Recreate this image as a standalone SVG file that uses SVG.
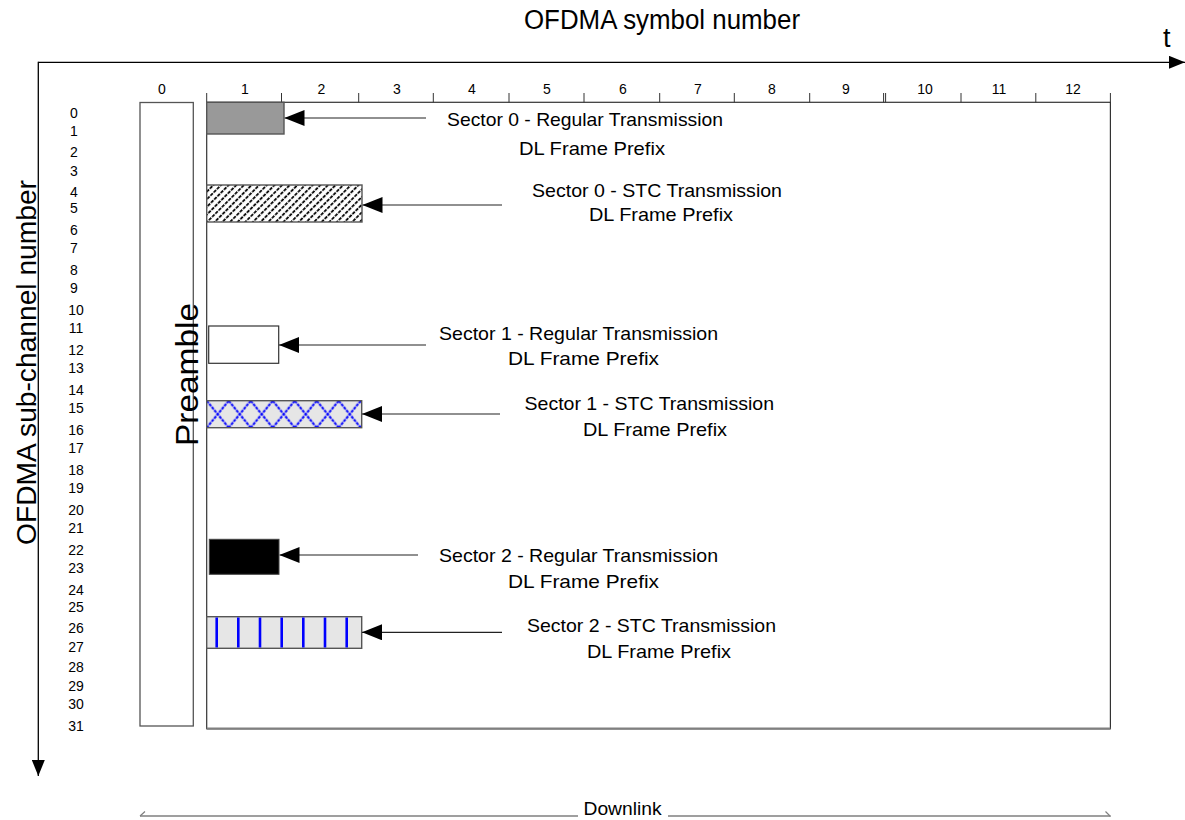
<svg xmlns="http://www.w3.org/2000/svg" width="1185" height="820" viewBox="0 0 1185 820">
<style>
  text { font-family: "Liberation Sans", Arial, sans-serif; fill: #000; }
  .title { font-size: 27px; }
  .col { font-size: 14px; text-anchor: middle; }
  .row { font-size: 14px; text-anchor: middle; }
  .lbl { font-size: 19px; }
  .axis { stroke: #000; stroke-width: 1.3; fill: none; }
  .tick { stroke: #333; stroke-width: 1; }
  .conn { stroke: #222; stroke-width: 1.2; fill: none; marker-end: url(#ah); }
  .box { stroke: #555; stroke-width: 1.4; }
</style>
<defs>
  <marker id="ah" markerUnits="userSpaceOnUse" viewBox="0 0 20 16" refX="20" refY="8" markerWidth="20" markerHeight="16" orient="auto">
    <path d="M0,0 L20,8 L0,16 z" fill="#000"/>
  </marker>
  <marker id="axh" markerUnits="userSpaceOnUse" viewBox="0 0 16 13" refX="16" refY="6.5" markerWidth="16" markerHeight="13" orient="auto">
    <path d="M0,0 L16,6.5 L0,13 z" fill="#000"/>
  </marker>
  <pattern id="hatch" patternUnits="userSpaceOnUse" width="5.4" height="4.6" patternTransform="rotate(45)">
    <rect width="5.4" height="4.6" fill="#fff"/>
    <line x1="1" y1="0" x2="1" y2="3.4" stroke="#000" stroke-width="1.8"/>
  </pattern>
  <pattern id="diamond" patternUnits="userSpaceOnUse" x="206.7" y="400.7" width="22" height="27">
    <rect width="22" height="27" fill="#e6e6e6"/>
    <path d="M0,0 L22,27 M22,0 L0,27" stroke="#0000ff" stroke-width="2" stroke-dasharray="3 1" fill="none"/>
  </pattern>
</defs>

<!-- axes and titles -->
<g id="axes">
  <text class="title" x="662" y="29" text-anchor="middle" textLength="276" lengthAdjust="spacingAndGlyphs">OFDMA symbol number</text>
  <text class="title" x="1163" y="47">t</text>
  <text class="title" transform="translate(36,362.5) rotate(-90)" text-anchor="middle" textLength="365" lengthAdjust="spacingAndGlyphs">OFDMA sub-channel number</text>
  <line class="axis" x1="38.3" y1="62.3" x2="1185" y2="62.3" marker-end="url(#axh)"/>
  <line class="axis" x1="38.3" y1="61.7" x2="38.3" y2="776" marker-end="url(#axh)"/>
</g>

<!-- column numbers -->
<g id="columns">
  <text class="col" x="162" y="94">0</text>
  <text class="col" x="245" y="94">1</text>
  <text class="col" x="321.5" y="94">2</text>
  <text class="col" x="397" y="94">3</text>
  <text class="col" x="472" y="94">4</text>
  <text class="col" x="547" y="94">5</text>
  <text class="col" x="623" y="94">6</text>
  <text class="col" x="698" y="94">7</text>
  <text class="col" x="772" y="94">8</text>
  <text class="col" x="846" y="94">9</text>
  <text class="col" x="925" y="94">10</text>
  <text class="col" x="999" y="94">11</text>
  <text class="col" x="1073" y="94">12</text>
</g>

<!-- row numbers -->
<g id="rows">
  <text class="row" x="74" y="118.3">0</text>
  <text class="row" x="74" y="136">1</text>
  <text class="row" x="74" y="156.7">2</text>
  <text class="row" x="74" y="175.7">3</text>
  <text class="row" x="74" y="196.7">4</text>
  <text class="row" x="74" y="213.3">5</text>
  <text class="row" x="74" y="235">6</text>
  <text class="row" x="74" y="252.7">7</text>
  <text class="row" x="74" y="275">8</text>
  <text class="row" x="74" y="293.3">9</text>
  <text class="row" x="76" y="315">10</text>
  <text class="row" x="76" y="333.3">11</text>
  <text class="row" x="76" y="355">12</text>
  <text class="row" x="76" y="372.7">13</text>
  <text class="row" x="76" y="395">14</text>
  <text class="row" x="76" y="413.3">15</text>
  <text class="row" x="76" y="435">16</text>
  <text class="row" x="76" y="453.3">17</text>
  <text class="row" x="76" y="475">18</text>
  <text class="row" x="76" y="493.3">19</text>
  <text class="row" x="76" y="515">20</text>
  <text class="row" x="76" y="533.3">21</text>
  <text class="row" x="76" y="555">22</text>
  <text class="row" x="76" y="573.3">23</text>
  <text class="row" x="76" y="595">24</text>
  <text class="row" x="76" y="611.7">25</text>
  <text class="row" x="76" y="632.7">26</text>
  <text class="row" x="76" y="651.7">27</text>
  <text class="row" x="76" y="671.7">28</text>
  <text class="row" x="76" y="691">29</text>
  <text class="row" x="76" y="709.3">30</text>
  <text class="row" x="76" y="730.7">31</text>
</g>

<!-- preamble -->
<g id="preamble">
  <rect x="140" y="102.5" width="53.3" height="623.5" fill="#fff" stroke="#555" stroke-width="1.3"/>
  <text transform="translate(198,374.5) rotate(-90)" text-anchor="middle" font-size="31" textLength="143" lengthAdjust="spacingAndGlyphs">Preamble</text>
</g>

<!-- main frame -->
<g id="frame">
  <rect x="206.7" y="102.3" width="903.7" height="626.4" fill="#fff" stroke="#333" stroke-width="1.2"/>
  <line x1="206.7" y1="728.7" x2="1110.4" y2="728.7" stroke="#808080" stroke-width="2.2"/>
  <g class="tick">
    <line x1="206.7" y1="93" x2="206.7" y2="102.3"/>
    <line x1="281.5" y1="93" x2="281.5" y2="102.3"/>
    <line x1="358.7" y1="93" x2="358.7" y2="102.3"/>
    <line x1="433.3" y1="93" x2="433.3" y2="102.3"/>
    <line x1="509" y1="93" x2="509" y2="102.3"/>
    <line x1="584" y1="93" x2="584" y2="102.3"/>
    <line x1="659.7" y1="93" x2="659.7" y2="102.3"/>
    <line x1="734.3" y1="93" x2="734.3" y2="102.3"/>
    <line x1="809.7" y1="93" x2="809.7" y2="102.3"/>
    <line x1="883.6" y1="93" x2="883.6" y2="102.3"/>
    <line x1="885.6" y1="93" x2="885.6" y2="102.3"/>
    <line x1="961" y1="93" x2="961" y2="102.3"/>
    <line x1="1035.8" y1="93" x2="1035.8" y2="102.3"/>
    <line x1="1110.4" y1="93" x2="1110.4" y2="102.3"/>
  </g>
</g>

<!-- sector blocks -->
<g id="s0-regular">
  <rect class="box" x="206.7" y="102.3" width="77.3" height="31.7" fill="#999999"/>
</g>
<g id="s0-stc">
  <rect class="box" x="206.7" y="185" width="155.3" height="37" fill="url(#hatch)"/>
</g>
<g id="s1-regular">
  <rect x="208.7" y="326" width="70" height="37.3" fill="#fff" stroke="#333" stroke-width="1.2"/>
</g>
<g id="s1-stc">
  <rect class="box" x="206.7" y="400.7" width="155" height="27" fill="url(#diamond)"/>
</g>
<g id="s2-regular">
  <rect x="209.3" y="539.3" width="69.7" height="35" fill="#000" stroke="#444" stroke-width="1"/>
</g>
<g id="s2-stc">
  <rect class="box" x="206.7" y="616.7" width="155" height="31.6" fill="#e6e6e6"/>
  <g stroke="#0000ff" stroke-width="2.6">
    <line x1="216.7" y1="617.5" x2="216.7" y2="647.5"/>
    <line x1="238.3" y1="617.5" x2="238.3" y2="647.5"/>
    <line x1="260" y1="617.5" x2="260" y2="647.5"/>
    <line x1="281.7" y1="617.5" x2="281.7" y2="647.5"/>
    <line x1="303.3" y1="617.5" x2="303.3" y2="647.5"/>
    <line x1="325" y1="617.5" x2="325" y2="647.5"/>
    <line x1="346.7" y1="617.5" x2="346.7" y2="647.5"/>
  </g>
</g>

<!-- labels -->
<g id="label-s0-regular">
  <text class="lbl" x="447" y="126" textLength="276" lengthAdjust="spacingAndGlyphs">Sector 0 - Regular Transmission</text>
  <text class="lbl" x="519" y="155" textLength="146" lengthAdjust="spacingAndGlyphs">DL Frame Prefix</text>
</g>
<g id="label-s0-stc">
  <text class="lbl" x="532" y="196.5" textLength="250" lengthAdjust="spacingAndGlyphs">Sector 0 - STC Transmission</text>
  <text class="lbl" x="589" y="221" textLength="144" lengthAdjust="spacingAndGlyphs">DL Frame Prefix</text>
</g>
<g id="label-s1-regular">
  <text class="lbl" x="439" y="340" textLength="279" lengthAdjust="spacingAndGlyphs">Sector 1 - Regular Transmission</text>
  <text class="lbl" x="508" y="365" textLength="151" lengthAdjust="spacingAndGlyphs">DL Frame Prefix</text>
</g>
<g id="label-s1-stc">
  <text class="lbl" x="524.5" y="410" textLength="249.5" lengthAdjust="spacingAndGlyphs">Sector 1 - STC Transmission</text>
  <text class="lbl" x="583" y="436" textLength="144" lengthAdjust="spacingAndGlyphs">DL Frame Prefix</text>
</g>
<g id="label-s2-regular">
  <text class="lbl" x="439" y="562" textLength="279" lengthAdjust="spacingAndGlyphs">Sector 2 - Regular Transmission</text>
  <text class="lbl" x="508" y="587.5" textLength="151" lengthAdjust="spacingAndGlyphs">DL Frame Prefix</text>
</g>
<g id="label-s2-stc">
  <text class="lbl" x="527" y="631.5" textLength="249" lengthAdjust="spacingAndGlyphs">Sector 2 - STC Transmission</text>
  <text class="lbl" x="587" y="658" textLength="144" lengthAdjust="spacingAndGlyphs">DL Frame Prefix</text>
</g>

<!-- connectors -->
<g id="connectors">
  <line class="conn" x1="426" y1="118" x2="284.5" y2="118"/>
  <line class="conn" x1="502" y1="205" x2="362.5" y2="205"/>
  <line class="conn" x1="426" y1="345" x2="279" y2="345"/>
  <line class="conn" x1="500" y1="414" x2="362" y2="414"/>
  <line class="conn" x1="418" y1="555" x2="279.5" y2="555"/>
  <line class="conn" x1="502" y1="632.3" x2="362" y2="632.3"/>
</g>

<!-- downlink span -->
<g id="downlink">
  <path d="M578,816 L140,816 M668,816 L1110.5,816" stroke="#808080" stroke-width="1.3" fill="none"/>
  <path d="M140,816 L145,811.5 M1110.5,816.5 L1105.5,811.5" stroke="#808080" stroke-width="1.2" fill="none"/>
  <text x="622.5" y="815" text-anchor="middle" font-size="18" textLength="78" lengthAdjust="spacingAndGlyphs">Downlink</text>
</g>
</svg>
